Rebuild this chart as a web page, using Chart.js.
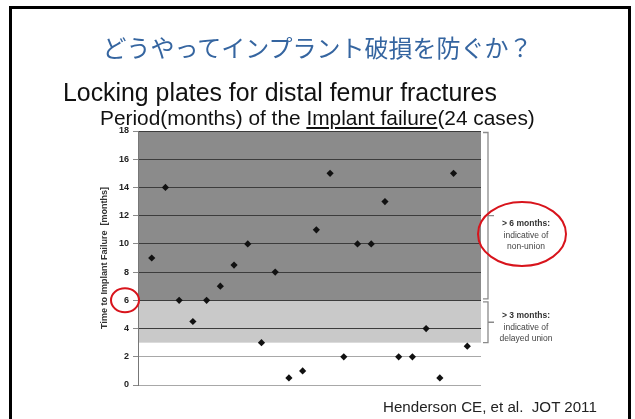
<!DOCTYPE html>
<html><head><meta charset="utf-8">
<script src="https://cdn.jsdelivr.net/npm/chart.js@4.4.0/dist/chart.umd.min.js"></script>
<style>
html,body{margin:0;padding:0;background:#fff;width:635px;height:419px;overflow:hidden;font-family:"Liberation Sans",Arial,sans-serif;}
#frame{position:absolute;left:9px;top:6px;width:616px;height:440px;border:3px solid #000;border-bottom:none;}
#c{position:absolute;left:0;top:0;}
.t{position:absolute;white-space:nowrap;line-height:1;}
#title{left:0;width:635px;text-align:center;top:35px;font-family:"Noto Sans CJK JP",sans-serif;font-size:24px;color:#3565a0;}
#sub1{left:63px;top:80px;font-size:21px;color:#111;}
#sub2{left:100px;top:108px;font-size:17.5px;color:#111;}
#sub2 u{text-decoration-thickness:1.5px;text-underline-offset:2px;}
#cite{left:383px;top:399px;font-size:14px;color:#222;}
.lab{position:absolute;width:90px;text-align:center;font-size:8.5px;line-height:11.5px;color:#444;}
.lab b{color:#333;}
</style></head>
<body>
<div id="frame"></div>
<canvas id="c" width="635" height="419"></canvas>
<div class="t" id="title">どうやってインプラント破損を防ぐか？</div>
<div class="t" id="sub1">Locking plates for distal femur fractures</div>
<div class="t" id="sub2">Period(months) of the <u>Implant failure</u>(24 cases)</div>
<div class="t" id="cite">Henderson CE, et al.&nbsp; JOT 2011</div>
<div class="lab" style="left:481px;top:218px;"><b>&gt; 6 months:</b><br>indicative of<br>non-union</div>
<div class="lab" style="left:481px;top:310px;"><b>&gt; 3 months:</b><br>indicative of<br>delayed union</div>
<script>
// ---- data ----
const caseNo = [1,2,3,4,5,6,7,8,9,10,11,12,13,14,15,16,17,18,19,20,21,22,23,24];
const monthsToFailure = [9,14,6,4.5,6,7,8.5,10,3,8,0.5,1,11,15,2,10,10,13,2,2,4,0.5,15,2.75];
const yTicks = [0,2,4,6,8,10,12,14,16,18];
const nonUnionZone = [6,18];
const delayedUnionZone = [3,6];

// fit latin lines to the widths seen in the reference
function fit(id, target){
  const el=document.getElementById(id);
  const w=el.getBoundingClientRect().width;
  const fs=parseFloat(getComputedStyle(el).fontSize);
  el.style.fontSize=(fs*target/w)+'px';
}
fit('sub1',434); fit('sub2',435); fit('cite',214);

const zones = {
  id:'zones',
  beforeDraw(chart){
    const {ctx, chartArea:a, scales:{y}} = chart;
    ctx.save();
    ctx.fillStyle='#8b8b8b';
    let t=y.getPixelForValue(nonUnionZone[1]), b=y.getPixelForValue(nonUnionZone[0]);
    ctx.fillRect(a.left,t,a.right-a.left,b-t);
    ctx.fillStyle='#c9c9c9';
    t=y.getPixelForValue(delayedUnionZone[1]); b=y.getPixelForValue(delayedUnionZone[0]);
    ctx.fillRect(a.left,t,a.right-a.left,b-t);
    ctx.restore();
  },
  afterDraw(chart){
    const {ctx, chartArea:a, scales:{y}} = chart;
    ctx.save();
    ctx.strokeStyle='#8a8a8a'; ctx.lineWidth=1.3;
    const bx=a.right+7;
    function bracket(v0,v1,gapTop,gapBot){
      const t=y.getPixelForValue(v1)+gapTop, b=y.getPixelForValue(v0)-gapBot, m=(t+b)/2;
      ctx.beginPath();
      ctx.moveTo(bx-5,t); ctx.lineTo(bx,t); ctx.lineTo(bx,b); ctx.lineTo(bx-5,b);
      ctx.moveTo(bx,m); ctx.lineTo(bx+6,m);
      ctx.stroke();
    }
    bracket(nonUnionZone[0],nonUnionZone[1],1.5,1.5);
    bracket(delayedUnionZone[0],delayedUnionZone[1],1.5,0);
    ctx.strokeStyle='#d8141c'; ctx.lineWidth=2;
    ctx.beginPath(); ctx.ellipse(125,y.getPixelForValue(6),14,12,0,0,Math.PI*2); ctx.stroke();
    ctx.beginPath(); ctx.ellipse(522,234,44,32,0,0,Math.PI*2); ctx.stroke();
    ctx.restore();
  }
};

new Chart(document.getElementById('c'),{
  type:'scatter',
  data:{datasets:[{
    data: caseNo.map((x,i)=>({x, y: monthsToFailure[i]})),
    pointStyle:'rectRot', pointRadius:3.6, pointHoverRadius:3.6,
    backgroundColor:'#111', borderColor:'#111', borderWidth:0
  }]},
  options:{
    responsive:false, animation:false,
    layout:{padding:{left:96,top:131,right:154,bottom:34}},
    plugins:{legend:{display:false},tooltip:{enabled:false}},
    scales:{
      x:{type:'linear',min:0,max:caseNo.length+1,display:false},
      y:{min:0,max:18,
        afterBuildTicks(s){s.ticks=yTicks.map(v=>({value:v}));},
        afterFit(s){s.width=42;},
        ticks:{color:'#222',padding:4,font:{family:'Liberation Sans',size:9,weight:'bold'}},
        grid:{color:c=>c.tick && c.tick.value>=4?'#3c3c3c':'#a8a8a8',tickColor:'#8a8a8a',tickLength:5,lineWidth:1},
        border:{color:'#777',width:1},
        title:{display:true,text:'Time to Implant Failure  [months]',color:'#333',
          font:{family:'Liberation Sans',size:9,weight:'bold'},padding:{top:3,bottom:0}}
      }
    }
  },
  plugins:[zones]
});
</script>
</body></html>
